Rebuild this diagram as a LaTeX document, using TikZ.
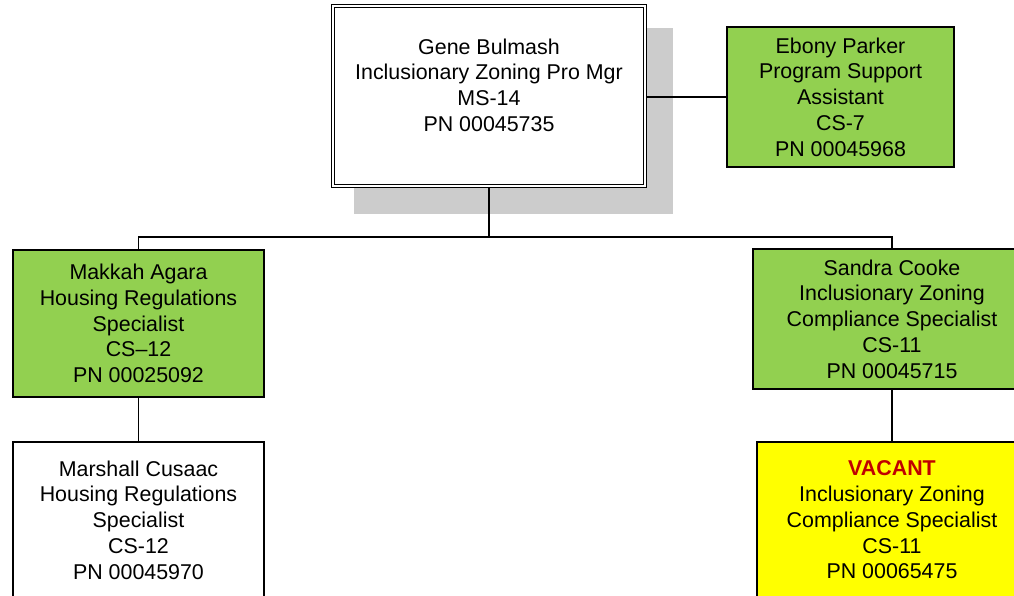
\documentclass[tikz,border=0pt]{standalone}
\usepackage{fontspec}
\setmainfont{Liberation Sans}
\usetikzlibrary{backgrounds}
\definecolor{boxgreen}{HTML}{92D050}
\definecolor{boxyellow}{HTML}{FFFF00}
\definecolor{vacantred}{HTML}{C00000}
\definecolor{shadowgray}{HTML}{CCCCCC}
\tikzset{
  orgbox/.style={draw=black, line width=1.1pt, inner sep=0pt, align=center,
    font=\fontsize{21.4}{25.7}\selectfont},
  greenbox/.style={orgbox, fill=boxgreen},
  whitebox/.style={orgbox, fill=white},
  yellowbox/.style={orgbox, fill=boxyellow},
  conn/.style={draw=black, line width=1.1pt},
  lbl/.style={inner sep=0pt, align=center, font=\fontsize{21.4}{25.7}\selectfont}
}
\begin{document}
\begin{tikzpicture}[x=1pt, y=-1pt]
\useasboundingbox (0,0) rectangle (1014,595);
\clip (0,0) rectangle (1014,595);
% top manager box (double border)
\node[draw=black, line width=0.9pt, double=white, double distance=2.6pt, fill=white,
      minimum width=312pt, minimum height=180pt, inner sep=0pt] (gene) at (489,96) {};
\node[lbl] (genetext) at (489,85) {Gene Bulmash\\Inclusionary Zoning Pro Mgr\\MS-14\\PN 00045735};
\node[greenbox, minimum width=227pt, minimum height=140pt] (ebony) at (840.5,97)
  {Ebony Parker\\Program Support\\Assistant\\CS-7\\PN 00045968};
\node[greenbox, minimum width=251pt, minimum height=147pt] (makkah) at (138.5,323.5)
  {Makkah Agara\\Housing Regulations\\Specialist\\CS–12\\PN 00025092};
\node[whitebox, minimum width=251pt, minimum height=156pt] (marshall) at (138.5,520)
  {Marshall Cusaac\\Housing Regulations\\Specialist\\CS-12\\PN 00045970};
\node[greenbox, minimum width=278pt, minimum height=140pt] (sandra) at (892,319)
  {Sandra Cooke\\Inclusionary Zoning\\Compliance Specialist\\CS-11\\PN 00045715};
\node[yellowbox, minimum width=270pt, minimum height=156pt] (vacant) at (892,520)
  {\textbf{\color{vacantred}VACANT}\\Inclusionary Zoning\\Compliance Specialist\\CS-11\\PN 00065475};
\coordinate (bus) at (489,237);
\begin{pgfonlayer}{background}
  \fill[shadowgray] (354,28) rectangle (673,214);
  \draw[conn] (gene.south) -- (bus);
  \draw[conn] (makkah.north) -- (makkah.north |- bus) -| (sandra.north);
  \draw[conn] (gene.east |- ebony.west) -- (ebony.west);
  \draw[conn] (makkah.south) -- (marshall.north);
  \draw[conn] (sandra.south) -- (vacant.north);
\end{pgfonlayer}
\end{tikzpicture}
\end{document}
